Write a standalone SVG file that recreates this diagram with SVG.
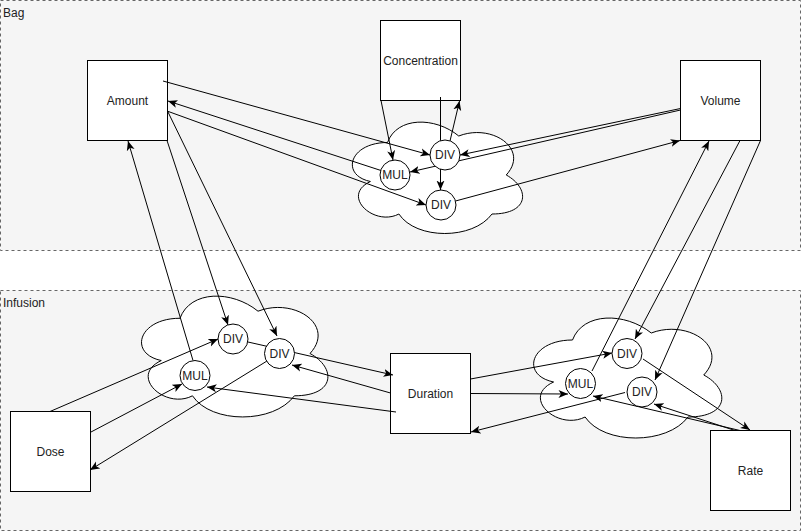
<svg xmlns="http://www.w3.org/2000/svg" width="801" height="531" viewBox="0 0 801 531">
  <style>
    .container { fill: #f5f5f5; stroke: #666666; stroke-width: 1; stroke-dasharray: 3 3; }
    .box { fill: #ffffff; stroke: #000000; stroke-width: 1; }
    .cloud { fill: #ffffff; stroke: #000000; stroke-width: 1; }
    .op { fill: #ffffff; stroke: #000000; stroke-width: 1; }
    .label { font-family: "Liberation Sans", Helvetica, Arial, sans-serif; font-size: 12px; fill: #222222; }
    .center { text-anchor: middle; dominant-baseline: central; }
    .edge { fill: none; stroke: #000000; stroke-width: 1; }
    .edge.arrow { marker-end: url(#arrow); }
  </style>
  <defs>
    <marker id="arrow" viewBox="0 0 10 9" refX="9.5" refY="4.5" markerWidth="10" markerHeight="9" orient="auto" markerUnits="userSpaceOnUse">
      <path d="M0,0.5 L9.5,4.5 L0,8.5 L2.5,4.5 Z" fill="#000000"/>
    </marker>
  </defs>

  <!-- Containers -->
  <g id="bag">
    <rect class="container" x="0.5" y="0.5" width="800" height="250"/>
    <text class="label" x="3" y="17">Bag</text>
  </g>
  <g id="infusion">
    <rect class="container" x="0.5" y="290.5" width="800" height="240"/>
    <text class="label" x="3" y="307">Infusion</text>
  </g>

  <!-- Clouds grouping the operations -->
  <g id="cloud-bag">
    <path class="cloud" d="M387.5,142.5 C349.5,142.5 340,175 370.4,181.5 C340,195.8 374.2,227 398.9,214 C416,240 473,240 492,214 C530,214 530,188 506.25,175 C530,149 492,123 458.75,136 C435,116.5 397,116.5 387.5,142.5 Z"/>
  </g>
  <g id="cloud-dose">
    <path class="cloud" d="M180,318.25 C138.4,318.25 128,353.5 161.28,360.55 C128,376.06 165.44,409.9 192.48,395.8 C211.2,424 273.6,424 294.4,395.8 C336,395.8 336,367.6 310,353.5 C336,325.3 294.4,297.1 258,311.2 C232,290.05 190.4,290.05 180,318.25 Z"/>
  </g>
  <g id="cloud-rate">
    <path class="cloud" d="M572.5,340 C530.5,340 520,375 553.6,382 C520,397.4 557.8,431 585.1,417 C604,445 667,445 688,417 C730,417 730,389 703.75,375 C730,347 688,319 651.25,333 C625,312 583,312 572.5,340 Z"/>
  </g>

  <!-- Variables -->
  <g id="amount">
    <rect class="box" x="87.5" y="60.5" width="80" height="80"/>
    <text class="label center" x="127.5" y="100.5">Amount</text>
  </g>
  <g id="concentration">
    <rect class="box" x="380.5" y="20.5" width="80" height="80"/>
    <text class="label center" x="420.5" y="60.5">Concentration</text>
  </g>
  <g id="volume">
    <rect class="box" x="680.5" y="60.5" width="80" height="80"/>
    <text class="label center" x="720.5" y="100.5">Volume</text>
  </g>
  <g id="dose">
    <rect class="box" x="10.5" y="411.5" width="80" height="80"/>
    <text class="label center" x="50.5" y="451.5">Dose</text>
  </g>
  <g id="duration">
    <rect class="box" x="390.5" y="353.5" width="80" height="80"/>
    <text class="label center" x="430.5" y="393.5">Duration</text>
  </g>
  <g id="rate">
    <rect class="box" x="710.5" y="430.5" width="80" height="80"/>
    <text class="label center" x="750.5" y="470.5">Rate</text>
  </g>

  <!-- Connectors -->
  <g id="connectors">
    <!-- Bag -->
    <path class="edge arrow" d="M163,81 L430,155"/>
    <path class="edge arrow" d="M381,170.5 L168,101"/>
    <path class="edge arrow" d="M167,111 L426,205"/>
    <path class="edge arrow" d="M381,100.5 L393,160"/>
    <path class="edge arrow" d="M440.5,97 L440.5,190"/>
    <path class="edge arrow" d="M450,141 L459.5,101"/>
    <path class="edge arrow" d="M680.5,108.5 L460,155"/>
    <path class="edge arrow" d="M680.5,110 L410,172"/>
    <path class="edge arrow" d="M455.5,201 L680,140.5"/>
    <!-- Bag to Infusion, left -->
    <path class="edge arrow" d="M193,360.5 L128,141"/>
    <path class="edge arrow" d="M167,140.5 L228,325"/>
    <path class="edge arrow" d="M168,112 L277,336"/>
    <path class="edge arrow" d="M50,411.5 L218,339"/>
    <path class="edge arrow" d="M91,432 L182,384"/>
    <path class="edge arrow" d="M267,361 L90,470"/>
    <path class="edge arrow" d="M248,342 L393,375"/>
    <path class="edge arrow" d="M390.5,393 L292,365"/>
    <path class="edge arrow" d="M396,412 L207,387"/>
    <!-- Infusion, right -->
    <path class="edge arrow" d="M470.5,379 L612,353"/>
    <path class="edge arrow" d="M470.5,393.5 L568,394"/>
    <path class="edge arrow" d="M625,392.5 L471,432"/>
    <path class="edge arrow" d="M592,371 L709,141"/>
    <path class="edge arrow" d="M740,140.5 L635,339"/>
    <path class="edge arrow" d="M760.5,140.5 L655,380"/>
    <path class="edge arrow" d="M643,359 L750,430"/>
    <path class="edge arrow" d="M735,430.5 L654,404"/>
    <path class="edge arrow" d="M740,430.5 L593,396"/>
  </g>

  <!-- Operations -->
  <g id="op-bag-div-1"><circle class="op" cx="445" cy="155" r="15"/><text class="label center" x="445" y="155">DIV</text></g>
  <g id="op-bag-mul"><circle class="op" cx="395" cy="175" r="15"/><text class="label center" x="395" y="175">MUL</text></g>
  <g id="op-bag-div-2"><circle class="op" cx="441" cy="205" r="15"/><text class="label center" x="441" y="205">DIV</text></g>
  <g id="op-dose-div-1"><circle class="op" cx="233" cy="339" r="15"/><text class="label center" x="233" y="339">DIV</text></g>
  <g id="op-dose-div-2"><circle class="op" cx="279.5" cy="353.5" r="15"/><text class="label center" x="279.5" y="353.5">DIV</text></g>
  <g id="op-dose-mul"><circle class="op" cx="195" cy="375.5" r="15"/><text class="label center" x="195" y="375.5">MUL</text></g>
  <g id="op-rate-div-1"><circle class="op" cx="627" cy="353.5" r="15"/><text class="label center" x="627" y="353.5">DIV</text></g>
  <g id="op-rate-mul"><circle class="op" cx="580.5" cy="383.5" r="15"/><text class="label center" x="580.5" y="383.5">MUL</text></g>
  <g id="op-rate-div-2"><circle class="op" cx="642" cy="392" r="15"/><text class="label center" x="642" y="392">DIV</text></g>
</svg>
